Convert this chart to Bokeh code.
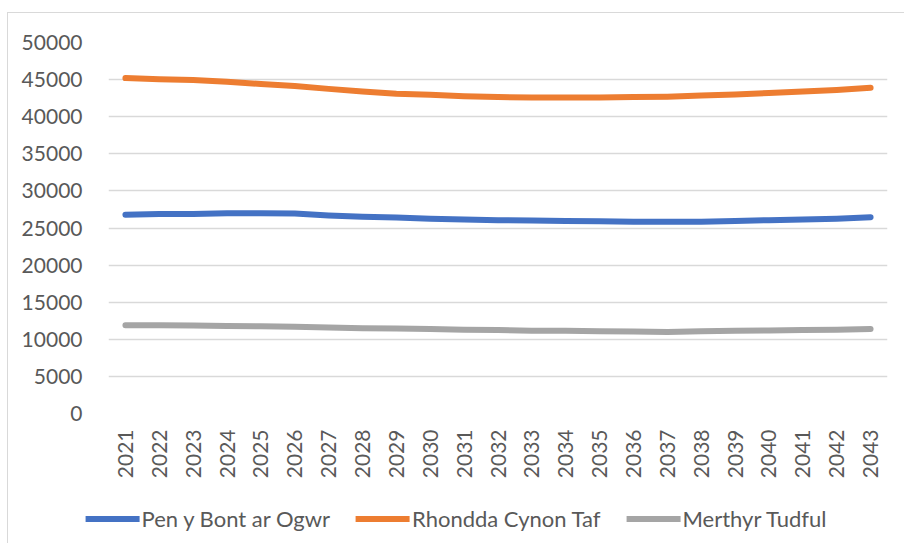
import math
from bokeh.plotting import figure
from bokeh.layouts import column
from bokeh.models import Range1d, FactorRange, Legend, LegendItem
from bokeh.embed import file_html
from bokeh.resources import INLINE

years = [str(y) for y in range(2021, 2044)]
pen_y_bont = [26800, 26900, 26900, 27000, 27000, 26950, 26700, 26500, 26400, 26250,
              26150, 26050, 26000, 25950, 25900, 25850, 25850, 25850, 25950, 26050,
              26150, 26250, 26450]
rhondda = [45200, 45050, 44950, 44700, 44400, 44150, 43750, 43400, 43100, 42950,
           42750, 42650, 42600, 42600, 42600, 42650, 42700, 42850, 43000, 43200,
           43400, 43600, 43900]
merthyr = [11900, 11900, 11850, 11800, 11750, 11700, 11600, 11500, 11450, 11400,
           11300, 11250, 11150, 11150, 11100, 11050, 11000, 11100, 11150, 11200,
           11250, 11300, 11400]
series_names = ["Pen y Bont ar Ogwr", "Rhondda Cynon Taf", "Merthyr Tudful"]
colors = ["#4472C4", "#ED7D31", "#A5A5A5"]
y_ticks = list(range(0, 50001, 5000))

FONT = "Lato"
TXT = "#595959"

p = figure(frame_width=779, frame_height=371, x_range=FactorRange(*years), y_range=Range1d(0, 50000),
           output_backend="svg", toolbar_location=None,
           min_border_left=100, min_border_right=17, min_border_top=29, min_border_bottom=80)
p.outline_line_color = None
p.xgrid.grid_line_color = None
p.ygrid.grid_line_color = "#d9d9d9"
p.ygrid.grid_line_width = 1.5

p.yaxis.ticker = y_ticks
p.yaxis.axis_line_color = None
p.yaxis.major_tick_line_color = None
p.yaxis.minor_tick_line_color = None
p.yaxis.major_label_standoff = 20
p.yaxis.major_label_text_font = FONT
p.yaxis.major_label_text_font_size = "21px"
p.yaxis.major_label_text_color = TXT

p.xaxis.axis_line_color = None
p.xaxis.major_tick_line_color = None
p.xaxis.major_label_orientation = math.pi / 2
p.xaxis.major_label_standoff = 10
p.xaxis.major_label_text_font = FONT
p.xaxis.major_label_text_font_size = "21px"
p.xaxis.major_label_text_color = TXT

all_series = [pen_y_bont, rhondda, merthyr]
for name, vals, c in zip(series_names, all_series, colors):
    p.line(years, vals, line_color=c, line_width=6, line_cap="round", line_join="round")

# legend strip below the chart (series drawn outside its visible range, only the key shows)
lg = figure(frame_width=814, frame_height=50, x_range=FactorRange(*years), y_range=Range1d(-2, -1),
            output_backend="svg", toolbar_location=None,
            x_axis_location=None, y_axis_location=None,
            min_border_left=50, min_border_right=32, min_border_top=0, min_border_bottom=0)
lg.outline_line_color = None
lg.xgrid.grid_line_color = None
lg.ygrid.grid_line_color = None
items = []
for name, vals, c in zip(series_names, all_series, colors):
    r = lg.line(years, vals, line_color=c, line_width=6, line_cap="round")
    items.append(LegendItem(label=name, renderers=[r]))
legend = Legend(items=items, orientation="horizontal", location="center",
                border_line_color=None, background_fill_alpha=0,
                label_text_font=FONT, label_text_font_size="22px", label_text_color=TXT,
                glyph_width=54, glyph_height=10, label_standoff=2, spacing=26,
                margin=0, padding=0)
lg.add_layout(legend, "center")

layout = column(p, lg, spacing=0)
layout.styles = {"border-left": "1px solid #d9d9d9", "border-top": "1px solid #d9d9d9",
                 "margin-top": "12px", "margin-left": "7px"}

open("out.html", "w").write(file_html(layout, INLINE))
